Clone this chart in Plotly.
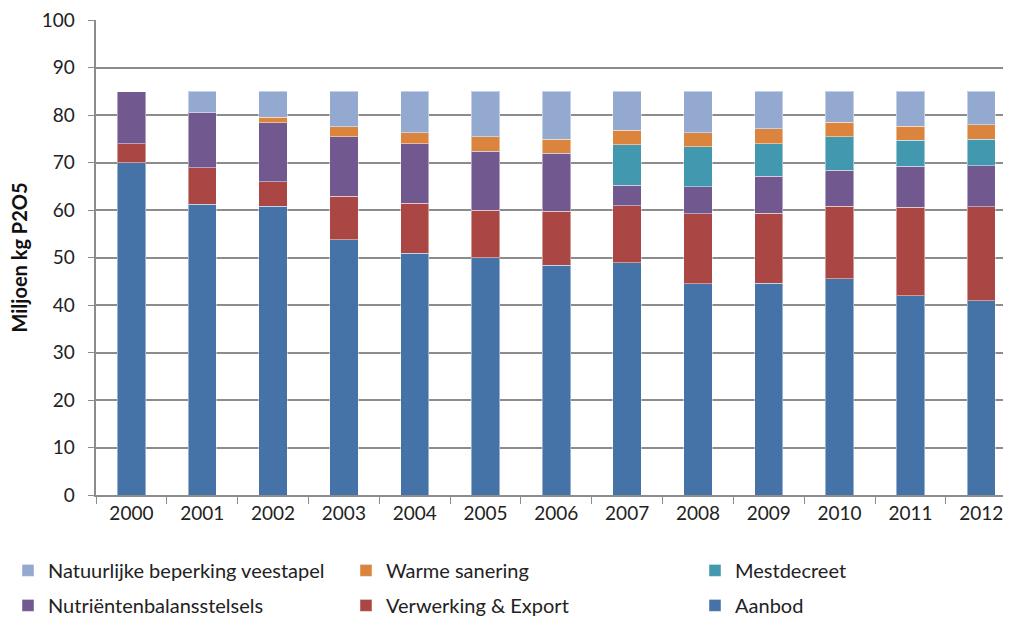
import plotly.graph_objects as go

YEARS = [str(y) for y in range(2000, 2013)]

aanbod      = [70.0, 61.2, 60.8, 53.7, 50.9, 49.9, 48.4, 48.9, 44.5, 44.6, 45.5, 42.0, 40.9]
verwerking  = [4.0, 7.7, 5.1, 9.2, 10.5, 10.0, 11.3, 12.0, 14.7, 14.7, 15.3, 18.6, 19.8]
nutrienten  = [10.9, 11.6, 12.5, 12.5, 12.5, 12.5, 12.2, 4.3, 5.7, 7.8, 7.6, 8.6, 8.6]
mestdecreet = [None, None, None, None, None, None, None, 8.5, 8.4, 6.9, 7.0, 5.5, 5.6]
warme       = [None, None, 1.1, 2.1, 2.4, 3.0, 3.0, 3.1, 3.0, 3.1, 3.1, 2.9, 3.0]
natuurlijk  = [None, 4.5, 5.5, 7.5, 8.7, 9.6, 10.1, 8.2, 8.7, 7.9, 6.5, 7.4, 7.1]

# name, values, colour, legend column
SERIES = [
    ("Aanbod", aanbod, "#4572A7", "legend3"),
    ("Verwerking & Export", verwerking, "#AA4643", "legend2"),
    ("Nutriëntenbalansstelsels", nutrienten, "#71588F", "legend"),
    ("Mestdecreet", mestdecreet, "#4198AF", "legend3"),
    ("Warme sanering", warme, "#DB843D", "legend2"),
    ("Natuurlijke beperking veestapel", natuurlijk, "#93A9CF", "legend"),
]

FONT = "Lato, Open Sans, sans-serif"
GRID = "#8c8c8c"

# page body has an 8px margin, so the figure is sized to the visible area
W, H = 1003, 610
L, T, B = 88, 12, 123

fig = go.Figure()
for i, (name, vals, col, leg) in enumerate(SERIES):
    fig.add_trace(go.Bar(
        x=YEARS, y=vals, name=name, legend=leg, legendgroup=name,
        legendrank=1000 - i,
        marker=dict(color=col, line=dict(color="rgba(255,255,255,0.45)", width=1)),
        width=0.4,
    ))

leg_common = dict(
    xref="container", yref="container", yanchor="top", xanchor="left",
    orientation="v", traceorder="grouped", tracegroupgap=6,
    font=dict(family=FONT, size=20, color="#222"), bgcolor="rgba(0,0,0,0)",
)

fig.update_layout(
    width=W, height=H,
    barmode="stack",
    paper_bgcolor="white", plot_bgcolor="white",
    font=dict(family=FONT, size=19, color="#222"),
    margin=dict(l=L, r=0, t=T, b=B, autoexpand=False),
    xaxis=dict(
        type="category",
        range=[-0.5, 12.42], showline=True, linecolor=GRID, linewidth=1.5,
        ticks="outside", tickson="boundaries", ticklen=7, tickcolor=GRID,
        showgrid=False, tickfont=dict(size=19), tickangle=0,
    ),
    yaxis=dict(
        range=[0, 100], dtick=10, showline=True, linecolor=GRID, linewidth=1.5,
        ticks="outside", ticklen=6, tickcolor=GRID,
        gridcolor=GRID, gridwidth=1.5, zeroline=False,
        ticksuffix="\u00a0\u00a0", tickfont=dict(size=19),
        ticklabeloverflow="allow",
    ),
    annotations=[dict(
        text="<b>Miljoen kg P2O5</b>", textangle=-90, showarrow=False,
        xref="paper", yref="paper", x=(10 - L) / (W - L), y=0.5,
        xanchor="center", yanchor="middle", font=dict(size=20, color="#111"),
    )],
    legend=dict(x=0.0, y=0.11, **leg_common),
    legend2=dict(x=338 / W, y=0.11, **leg_common),
    legend3=dict(x=687 / W, y=0.11, **leg_common),
)

fig.write_html("out.html")
